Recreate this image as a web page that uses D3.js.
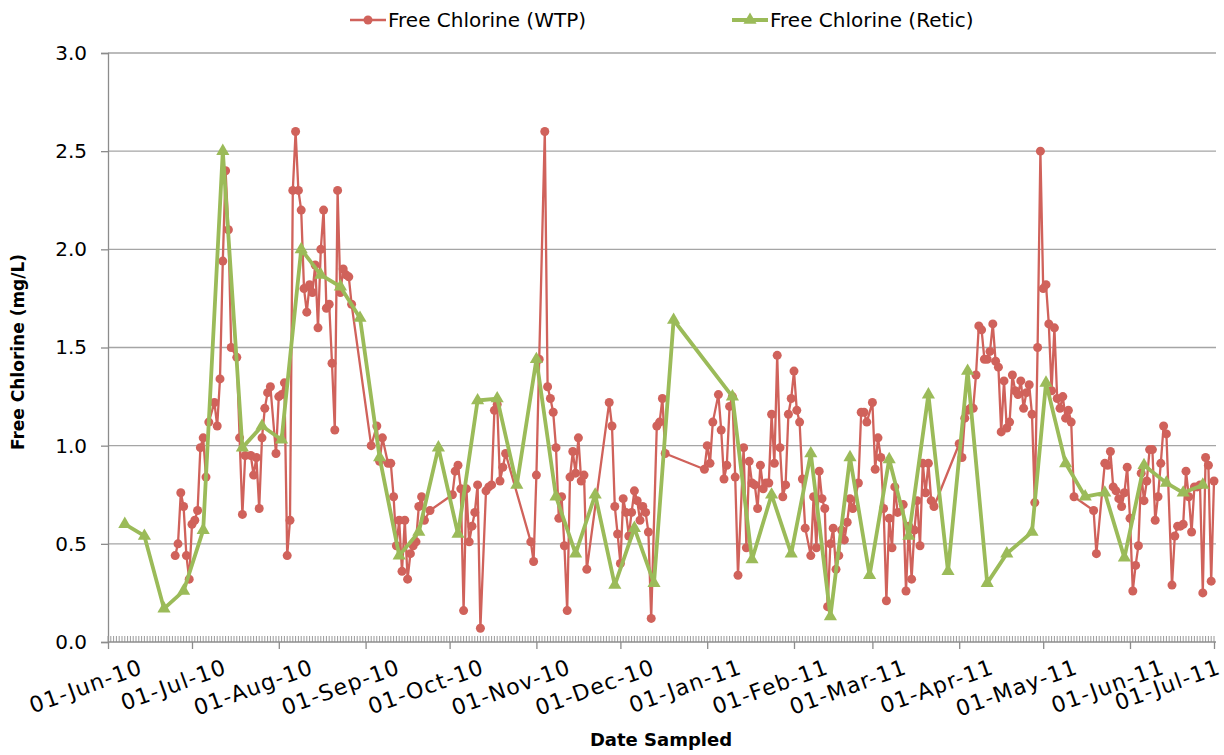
<!DOCTYPE html>
<html>
<head>
<meta charset="utf-8">
<script src="https://cdn.jsdelivr.net/npm/d3@7"></script>
<style>
  body { margin: 0; background: #fff; }
  text { font-family: "DejaVu Sans", sans-serif; fill: #000; }
</style>
</head>
<body>
<div id="chart"></div>
<script>
// WTP samples (date, free chlorine mg/L)
var wtpDates = ["2010-06-25","2010-06-26","2010-06-27","2010-06-28","2010-06-29","2010-06-30","2010-07-01","2010-07-02","2010-07-03","2010-07-04","2010-07-05","2010-07-06","2010-07-07","2010-07-09","2010-07-10","2010-07-11","2010-07-12","2010-07-13","2010-07-14","2010-07-15","2010-07-17","2010-07-18","2010-07-19","2010-07-20","2010-07-22","2010-07-23","2010-07-24","2010-07-25","2010-07-26","2010-07-27","2010-07-28","2010-07-29","2010-07-31","2010-08-01","2010-08-02","2010-08-03","2010-08-04","2010-08-05","2010-08-06","2010-08-07","2010-08-08","2010-08-09","2010-08-10","2010-08-11","2010-08-12","2010-08-13","2010-08-14","2010-08-15","2010-08-16","2010-08-17","2010-08-18","2010-08-19","2010-08-20","2010-08-21","2010-08-22","2010-08-23","2010-08-24","2010-08-25","2010-08-26","2010-08-27","2010-09-03","2010-09-05","2010-09-06","2010-09-07","2010-09-09","2010-09-10","2010-09-11","2010-09-12","2010-09-13","2010-09-14","2010-09-15","2010-09-16","2010-09-17","2010-09-18","2010-09-19","2010-09-20","2010-09-21","2010-09-22","2010-09-24","2010-10-02","2010-10-03","2010-10-04","2010-10-05","2010-10-06","2010-10-07","2010-10-08","2010-10-09","2010-10-10","2010-10-11","2010-10-12","2010-10-14","2010-10-15","2010-10-16","2010-10-17","2010-10-18","2010-10-19","2010-10-20","2010-10-21","2010-10-30","2010-10-31","2010-11-01","2010-11-02","2010-11-04","2010-11-05","2010-11-06","2010-11-07","2010-11-08","2010-11-09","2010-11-10","2010-11-11","2010-11-12","2010-11-13","2010-11-14","2010-11-15","2010-11-16","2010-11-17","2010-11-18","2010-11-19","2010-11-27","2010-11-28","2010-11-29","2010-11-30","2010-12-01","2010-12-02","2010-12-03","2010-12-04","2010-12-05","2010-12-06","2010-12-07","2010-12-08","2010-12-09","2010-12-10","2010-12-11","2010-12-12","2010-12-14","2010-12-15","2010-12-16","2010-12-17","2010-12-31","2011-01-01","2011-01-02","2011-01-03","2011-01-05","2011-01-06","2011-01-07","2011-01-08","2011-01-09","2011-01-10","2011-01-11","2011-01-12","2011-01-14","2011-01-15","2011-01-16","2011-01-17","2011-01-18","2011-01-19","2011-01-20","2011-01-21","2011-01-22","2011-01-23","2011-01-24","2011-01-25","2011-01-26","2011-01-27","2011-01-28","2011-01-29","2011-01-30","2011-01-31","2011-02-01","2011-02-02","2011-02-03","2011-02-04","2011-02-05","2011-02-07","2011-02-08","2011-02-09","2011-02-10","2011-02-11","2011-02-12","2011-02-13","2011-02-14","2011-02-15","2011-02-16","2011-02-17","2011-02-18","2011-02-19","2011-02-20","2011-02-21","2011-02-22","2011-02-24","2011-02-25","2011-02-26","2011-02-27","2011-03-01","2011-03-02","2011-03-03","2011-03-04","2011-03-05","2011-03-06","2011-03-07","2011-03-08","2011-03-09","2011-03-10","2011-03-12","2011-03-13","2011-03-14","2011-03-15","2011-03-16","2011-03-17","2011-03-18","2011-03-19","2011-03-20","2011-03-21","2011-03-22","2011-03-23","2011-04-01","2011-04-02","2011-04-03","2011-04-04","2011-04-05","2011-04-06","2011-04-07","2011-04-08","2011-04-09","2011-04-10","2011-04-11","2011-04-12","2011-04-13","2011-04-14","2011-04-15","2011-04-16","2011-04-17","2011-04-18","2011-04-19","2011-04-20","2011-04-21","2011-04-22","2011-04-23","2011-04-24","2011-04-25","2011-04-26","2011-04-27","2011-04-28","2011-04-29","2011-04-30","2011-05-01","2011-05-02","2011-05-03","2011-05-04","2011-05-05","2011-05-06","2011-05-07","2011-05-08","2011-05-09","2011-05-10","2011-05-11","2011-05-12","2011-05-19","2011-05-20","2011-05-23","2011-05-24","2011-05-25","2011-05-26","2011-05-27","2011-05-28","2011-05-29","2011-05-30","2011-05-31","2011-06-01","2011-06-02","2011-06-03","2011-06-04","2011-06-05","2011-06-06","2011-06-07","2011-06-08","2011-06-09","2011-06-10","2011-06-11","2011-06-12","2011-06-13","2011-06-14","2011-06-16","2011-06-17","2011-06-18","2011-06-19","2011-06-20","2011-06-21","2011-06-22","2011-06-23","2011-06-24","2011-06-25","2011-06-26","2011-06-27","2011-06-28","2011-06-29","2011-06-30","2011-07-01"];
var wtpValues = [0.44,0.50,0.76,0.69,0.44,0.32,0.60,0.62,0.67,0.99,1.04,0.84,1.12,1.22,1.10,1.34,1.94,2.40,2.10,1.50,1.45,1.04,0.65,0.95,0.95,0.85,0.94,0.68,1.04,1.19,1.27,1.30,0.96,1.25,1.26,1.32,0.44,0.62,2.30,2.60,2.30,2.20,1.80,1.68,1.82,1.78,1.92,1.60,2.00,2.20,1.70,1.72,1.42,1.08,2.30,1.78,1.90,1.87,1.86,1.72,1.00,1.10,0.92,1.04,0.91,0.91,0.74,0.49,0.62,0.36,0.62,0.32,0.45,0.49,0.51,0.69,0.74,0.62,0.67,0.75,0.87,0.90,0.78,0.16,0.78,0.51,0.59,0.66,0.80,0.07,0.77,0.79,0.80,1.18,1.21,0.82,0.89,0.96,0.51,0.41,0.85,1.44,2.60,1.30,1.24,1.17,0.99,0.63,0.74,0.49,0.16,0.84,0.97,0.86,1.04,0.82,0.85,0.37,1.22,1.10,0.69,0.55,0.40,0.73,0.66,0.54,0.66,0.77,0.72,0.62,0.69,0.66,0.56,0.12,1.10,1.12,1.24,0.96,0.88,1.00,0.91,1.12,1.26,1.08,0.83,0.90,1.20,1.25,0.84,0.34,0.99,0.48,0.92,0.81,0.80,0.68,0.90,0.78,0.81,0.81,1.16,0.91,1.46,0.99,0.74,0.80,1.16,1.24,1.38,1.18,1.12,0.83,0.58,0.44,0.74,0.48,0.87,0.73,0.68,0.18,0.50,0.58,0.37,0.44,0.57,0.52,0.61,0.73,0.68,0.81,1.17,1.17,1.12,1.22,0.88,1.04,0.94,0.68,0.21,0.63,0.48,0.79,0.66,0.70,0.26,0.59,0.32,0.57,0.72,0.49,0.91,0.76,0.91,0.72,0.69,1.01,0.94,1.14,1.18,1.19,1.19,1.36,1.61,1.59,1.44,1.44,1.48,1.62,1.43,1.40,1.07,1.33,1.09,1.12,1.36,1.28,1.26,1.33,1.19,1.27,1.31,1.16,0.71,1.50,2.50,1.80,1.82,1.62,1.28,1.60,1.24,1.19,1.25,1.14,1.18,1.12,0.74,0.67,0.45,0.91,0.90,0.97,0.79,0.77,0.73,0.69,0.76,0.89,0.63,0.26,0.39,0.49,0.86,0.72,0.82,0.98,0.98,0.62,0.74,0.91,1.10,1.06,0.29,0.54,0.59,0.59,0.60,0.87,0.74,0.56,0.79,0.79,0.80,0.25,0.94,0.90,0.31,0.82];

// Reticulation samples (weekly)
var reticDates = ["2010-06-07","2010-06-14","2010-06-21","2010-06-28","2010-07-05","2010-07-12","2010-07-19","2010-07-26","2010-08-02","2010-08-09","2010-08-16","2010-08-23","2010-08-30","2010-09-06","2010-09-13","2010-09-20","2010-09-27","2010-10-04","2010-10-11","2010-10-18","2010-10-25","2010-11-01","2010-11-08","2010-11-15","2010-11-22","2010-11-29","2010-12-06","2010-12-13","2010-12-20","2011-01-10","2011-01-17","2011-01-24","2011-01-31","2011-02-07","2011-02-14","2011-02-21","2011-02-28","2011-03-07","2011-03-14","2011-03-21","2011-03-28","2011-04-04","2011-04-11","2011-04-18","2011-04-27","2011-05-02","2011-05-09","2011-05-16","2011-05-23","2011-05-30","2011-06-06","2011-06-14","2011-06-20","2011-06-27"];
var reticValues = [0.60,0.54,0.17,0.26,0.57,2.50,0.99,1.10,1.03,2.00,1.87,1.81,1.65,0.94,0.44,0.56,0.99,0.55,1.23,1.24,0.80,1.44,0.74,0.45,0.75,0.29,0.58,0.30,1.64,1.25,0.42,0.75,0.45,0.96,0.13,0.94,0.34,0.93,0.54,1.26,0.36,1.38,0.30,0.45,0.56,1.32,0.91,0.74,0.76,0.43,0.90,0.81,0.76,0.80];

var yTicks = [0, 0.5, 1.0, 1.5, 2.0, 2.5, 3.0];
var seriesNames = ["Free Chlorine (WTP)", "Free Chlorine (Retic)"];
var seriesColors = ["#D0625B", "#9BBB59"];

var width = 1224, height = 755;
var parse = d3.timeParse("%Y-%m-%d");

var wtp = wtpDates.map(function(d, i) { return {date: parse(d), value: wtpValues[i]}; });
var retic = reticDates.map(function(d, i) { return {date: parse(d), value: reticValues[i]}; });

var x = d3.scaleTime()
    .domain([parse("2010-06-01"), parse("2011-07-01")])
    .range([108, 1214]);
var y = d3.scaleLinear()
    .domain([0, 3])
    .range([642, 53]);

var svg = d3.select("#chart")
    .append("svg")
    .attr("width", width)
    .attr("height", height);

// gridlines
svg.selectAll(".grid")
    .data(yTicks.slice(1))
    .enter()
    .append("line")
    .attr("x1", 108).attr("x2", 1216)
    .attr("y1", function(d) { return y(d); })
    .attr("y2", function(d) { return y(d); })
    .attr("stroke", "#A5A5A5")
    .attr("stroke-width", 1.3);

// y axis
var yAxis = d3.axisLeft(y)
    .tickValues(yTicks)
    .tickFormat(d3.format(".1f"))
    .tickSize(7)
    .tickPadding(14);
var gy = svg.append("g")
    .attr("transform", "translate(108,0)")
    .call(yAxis);
gy.select(".domain").attr("stroke", "#8C8C8C").attr("stroke-width", 1.3);
gy.selectAll(".tick line").attr("stroke", "#8C8C8C").attr("stroke-width", 1.3);
gy.selectAll(".tick text")
    .style("font-family", "DejaVu Sans")
    .style("font-size", "20px");

// x axis: daily minor ticks inside, monthly major ticks outside
var days = d3.timeDay.range(x.domain()[0], d3.timeDay.offset(x.domain()[1], 1));
svg.append("g").selectAll("line")
    .data(days)
    .enter()
    .append("line")
    .attr("x1", function(d) { return x(d); })
    .attr("x2", function(d) { return x(d); })
    .attr("y1", 642).attr("y2", 636)
    .attr("stroke", "#9A9A9A")
    .attr("stroke-width", 1);

var months = d3.timeMonth.range(x.domain()[0], d3.timeDay.offset(x.domain()[1], 1));
var xAxis = d3.axisBottom(x)
    .tickValues(months)
    .tickSize(7)
    .tickFormat(function() { return ""; });
var gx = svg.append("g")
    .attr("transform", "translate(0,642)")
    .call(xAxis);
gx.select(".domain").attr("stroke", "#8C8C8C").attr("stroke-width", 1.3)
    .attr("d", "M108,0H1216");
gx.selectAll(".tick line").attr("stroke", "#8C8C8C").attr("stroke-width", 1.3);

// rotated date labels, last one pulled in to stay on the page
var fmt = d3.timeFormat("%d-%b-%y");
svg.append("g").selectAll("text")
    .data(months)
    .enter()
    .append("text")
    .attr("text-anchor", "end")
    .attr("transform", function(d) {
        return "translate(" + Math.min(x(d) + 36, 1222) + ",673) rotate(-20)";
    })
    .style("font-size", "22px")
    .style("letter-spacing", "1.2px")
    .text(function(d) { return fmt(d); });

// axis titles
svg.append("text")
    .attr("text-anchor", "middle")
    .attr("transform", "translate(24,352) rotate(-90)")
    .style("font-size", "17px")
    .style("font-weight", "bold")
    .text("Free Chlorine (mg/L)");
svg.append("text")
    .attr("x", 661).attr("y", 746)
    .attr("text-anchor", "middle")
    .style("font-size", "18px")
    .style("font-weight", "bold")
    .text("Date Sampled");

// WTP line
var line = d3.line()
    .x(function(d) { return x(d.date); })
    .y(function(d) { return y(d.value); });

svg.append("path")
    .datum(wtp)
    .attr("fill", "none")
    .attr("stroke", seriesColors[0])
    .attr("stroke-width", 2.3)
    .attr("stroke-linejoin", "round")
    .attr("d", line);
svg.append("g").selectAll("circle")
    .data(wtp)
    .enter()
    .append("circle")
    .attr("cx", function(d) { return x(d.date); })
    .attr("cy", function(d) { return y(d.value); })
    .attr("r", 4.5)
    .attr("fill", seriesColors[0]);

// Retic line
svg.append("path")
    .datum(retic)
    .attr("fill", "none")
    .attr("stroke", seriesColors[1])
    .attr("stroke-width", 3.8)
    .attr("stroke-linejoin", "round")
    .attr("d", line);
var tri = d3.symbol().type(d3.symbolTriangle).size(75);
svg.append("g").selectAll("path")
    .data(retic)
    .enter()
    .append("path")
    .attr("d", tri)
    .attr("transform", function(d) { return "translate(" + x(d.date) + "," + y(d.value) + ")"; })
    .attr("fill", seriesColors[1]);

// legend
var legend = svg.append("g");
var legendX = [350, 732];
seriesNames.forEach(function(name, i) {
    var g = legend.append("g").attr("transform", "translate(" + legendX[i] + ",20)");
    g.append("line")
        .attr("x1", 0).attr("x2", 36)
        .attr("stroke", seriesColors[i])
        .attr("stroke-width", i == 0 ? 2.3 : 3.8);
    if (i == 0) {
        g.append("circle").attr("cx", 18).attr("r", 4.5).attr("fill", seriesColors[i]);
    } else {
        g.append("path").attr("d", tri).attr("transform", "translate(18,0)").attr("fill", seriesColors[i]);
    }
    g.append("text")
        .attr("x", 38).attr("y", 7)
        .style("font-size", "20px")
        .text(name);
});
</script>
</body>
</html>
